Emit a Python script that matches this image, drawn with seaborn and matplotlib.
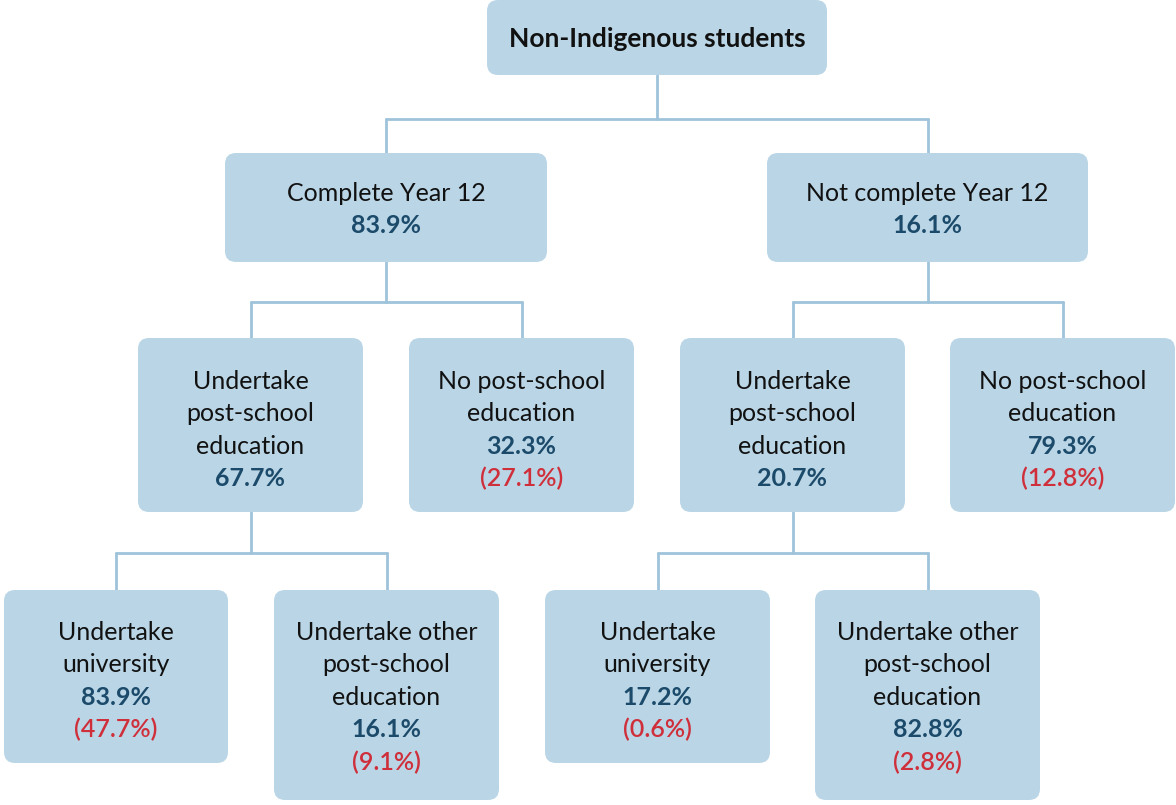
import matplotlib
matplotlib.use("Agg")
import matplotlib.pyplot as plt
import matplotlib.patches as mpatches
import seaborn as sns

# tree content
labels = [
    "Non-Indigenous students",
    "Complete Year 12",
    "Not complete Year 12",
    "Undertake\npost-school\neducation",
    "No post-school\neducation",
    "Undertake\npost-school\neducation",
    "No post-school\neducation",
    "Undertake\nuniversity",
    "Undertake other\npost-school\neducation",
    "Undertake\nuniversity",
    "Undertake other\npost-school\neducation",
]
values = [None, 83.9, 16.1, 67.7, 32.3, 20.7, 79.3, 83.9, 16.1, 17.2, 82.8]
shares = [None, None, None, None, 27.1, None, 12.8, 47.7, 9.1, 0.6, 2.8]
parents = [-1, 0, 0, 1, 1, 2, 2, 3, 3, 5, 5]

# layout in pixel coords (x0, y0, x1, y1), first text line y
boxes = [
    (487, 0, 827, 75),
    (225, 153, 547, 262), (767, 153, 1088, 262),
    (138, 338, 363, 512), (409, 338, 634, 512),
    (680, 338, 905, 512), (950, 338, 1175, 512),
    (4, 590, 228, 763), (274, 590, 499, 800),
    (545, 590, 770, 763), (815, 590, 1040, 800),
]
first_line = [39, 193, 193, 381, 381, 381, 381, 632, 632, 632, 632]
bus_y = {0: 119, 1: 302, 2: 302, 3: 553, 5: 553}
line_step = 32.5

box_color = "#bad6e6"
link_color = "#9ec3da"
num_color = "#1b4a6a"
share_color = "#cf2f3b"

sns.set_theme(style="white")
plt.rcParams["font.family"] = ["Lato", "DejaVu Sans"]

fig = plt.figure(figsize=(11.76, 8.05), dpi=100)
ax = fig.add_axes([0, 0, 1, 1])
ax.set_xlim(0, 1176)
ax.set_ylim(805, 0)
ax.axis("off")

# connectors
for p in sorted(set(parents) - {-1}):
    kids = [i for i, q in enumerate(parents) if q == p]
    px = (boxes[p][0] + boxes[p][2]) / 2
    by = bus_y[p]
    ax.plot([px, px], [boxes[p][3], by], color=link_color, lw=2, zorder=1)
    kx = [(boxes[k][0] + boxes[k][2]) / 2 for k in kids]
    ax.plot([min(kx), max(kx)], [by, by], color=link_color, lw=2, zorder=1)
    for k, x in zip(kids, kx):
        ax.plot([x, x], [by, boxes[k][1]], color=link_color, lw=2, zorder=1)

# boxes and text
for i, lab in enumerate(labels):
    x0, y0, x1, y1 = boxes[i]
    ax.add_patch(mpatches.FancyBboxPatch(
        (x0, y0), x1 - x0, y1 - y0,
        boxstyle="round,pad=0,rounding_size=11",
        facecolor=box_color, edgecolor="none", zorder=2))
    cx = (x0 + x1) / 2
    y = first_line[i]
    for line in lab.split("\n"):
        ax.text(cx, y, line, ha="center", va="center",
                fontsize=19 if i == 0 else 18,
                color="#111111", fontweight="bold" if i == 0 else "normal",
                zorder=3)
        y += line_step
    if values[i] is not None:
        ax.text(cx, y, f"{values[i]:.1f}%", ha="center", va="center",
                fontsize=18, color=num_color, fontweight="bold", zorder=3)
        y += line_step
    if shares[i] is not None:
        ax.text(cx, y, f"({shares[i]:.1f}%)", ha="center", va="center",
                fontsize=18, color=share_color, fontweight="semibold",
                zorder=3)

fig.savefig("out.png", dpi=100)
